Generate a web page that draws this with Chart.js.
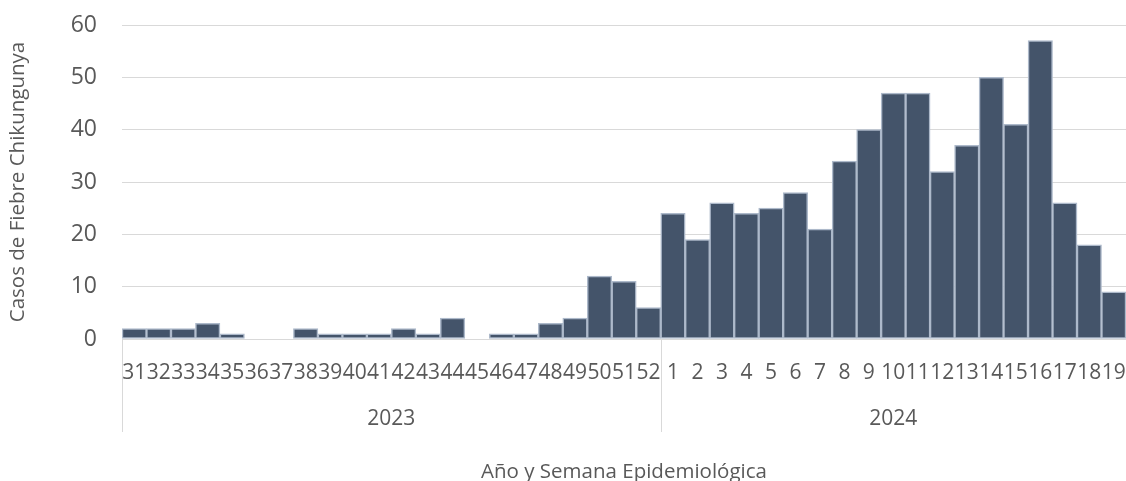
<!DOCTYPE html>
<html>
<head>
<meta charset="utf-8">
<script src="https://cdn.jsdelivr.net/npm/chart.js@4"></script>
<style>
  html, body { margin: 0; padding: 0; background: #fff; }
  #wrap { width: 1126px; height: 481px; }
</style>
</head>
<body>
<div id="wrap"><canvas id="chikGraph"></canvas></div>
<script>
// data
const years = ["2023", "2024"];
const weeks2023 = ["31","32","33","34","35","36","37","38","39","40","41","42","43","44","45","46","47","48","49","50","51","52"];
const weeks2024 = ["1","2","3","4","5","6","7","8","9","10","11","12","13","14","15","16","17","18","19"];
const cases2023 = [2, 2, 2, 3, 1, 0, 0, 2, 1, 1, 1, 2, 1, 4, 0, 1, 1, 3, 4, 12, 11, 6];
const cases2024 = [24, 19, 26, 24, 25, 28, 21, 34, 40, 47, 47, 32, 37, 50, 41, 57, 26, 18, 9];
const yTicks = [0, 10, 20, 30, 40, 50, 60];

const labels = weeks2023.concat(weeks2024);
const values = cases2023.concat(cases2024);
const groups = [weeks2023.length, weeks2024.length];

const textColor = "#595959";
const gridColor = "#D9D9D9";
const fontFamily = "'Open Sans', sans-serif";

// draws the year row under the week labels
const yearRow = {
  id: "yearRow",
  afterDraw(chart) {
    const ctx = chart.ctx;
    const x = chart.scales.x;
    const half = (x.getPixelForValue(1) - x.getPixelForValue(0)) / 2;
    let start = 0;
    ctx.save();
    ctx.strokeStyle = gridColor;
    ctx.lineWidth = 1;
    ctx.fillStyle = textColor;
    ctx.font = "21px " + fontFamily;
    ctx.textAlign = "center";
    ctx.textBaseline = "middle";
    groups.forEach((n, i) => {
      const left = x.getPixelForValue(start) - half;
      const right = x.getPixelForValue(start + n - 1) + half;
      ctx.beginPath();
      ctx.moveTo(Math.round(left) + 0.5, x.top);
      ctx.lineTo(Math.round(left) + 0.5, x.top + 93);
      ctx.stroke();
      ctx.fillText(years[i], (left + right) / 2, x.top + 80);
      start += n;
    });
    ctx.restore();
  }
};

const data = {
  labels: labels,
  datasets: [
    {
      label: "Casos",
      data: values,
      backgroundColor: "#44546A",
      borderColor: "#ADB9CA",
      borderWidth: 1.5,
      borderSkipped: false,
      barPercentage: 1,
      categoryPercentage: 1,
    },
  ],
};

const config = {
  type: "bar",
  data,
  plugins: [yearRow],
  options: {
    responsive: true,
    maintainAspectRatio: false,
    animation: false,
    layout: { padding: { top: 0, right: 0, bottom: 0, left: 0 } },
    plugins: {
      legend: { display: false },
      tooltip: { enabled: false },
    },
    scales: {
      x: {
        grid: { display: false, drawTicks: false },
        border: { display: false },
        ticks: {
          autoSkip: false,
          maxRotation: 0,
          minRotation: 0,
          padding: 21,
          color: textColor,
          font: { family: fontFamily, size: 21 },
        },
        title: {
          display: true,
          text: "Año y Semana Epidemiológica",
          color: textColor,
          font: { family: fontFamily, size: 20.5 },
          padding: { top: 0, bottom: -3 },
        },
        afterFit(scale) {
          scale.height = 142;
          scale.paddingLeft = 0;
          scale.paddingRight = 0;
        },
      },
      y: {
        min: 0,
        max: 60,
        afterBuildTicks(scale) { scale.ticks = yTicks.map((v) => ({ value: v })); },
        grid: { color: gridColor, drawTicks: false },
        border: { display: false },
        ticks: {
          padding: 25,
          color: textColor,
          font: { family: fontFamily, size: 23 },
        },
        title: {
          display: true,
          text: "Casos de Fiebre Chikungunya",
          color: textColor,
          font: { family: fontFamily, size: 20.5 },
          padding: { top: 6, bottom: 0 },
        },
        afterFit(scale) {
          scale.width = 122;
          scale.paddingTop = 25;
          scale.paddingBottom = 0;
        },
      },
    },
  },
};

const myChart = new Chart(document.getElementById("chikGraph"), config);
</script>
</body>
</html>
